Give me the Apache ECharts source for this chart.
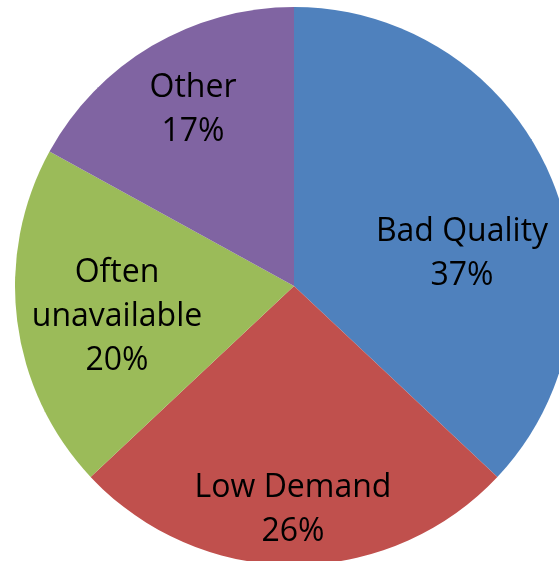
<!DOCTYPE html>
<html>
<head>
<meta charset="utf-8">
<style>
  html, body { margin: 0; padding: 0; background: #fff; }
  #chart { width: 559px; height: 561px; }
</style>
<script src="https://cdn.jsdelivr.net/npm/echarts@6/dist/echarts.min.js"></script>
</head>
<body>
<div id="chart"></div>
<script>
  // slices, clockwise from 12 o'clock
  const names = ['Bad Quality', 'Low Demand', 'Often\nunavailable', 'Other']
  const values = [37, 26, 20, 17]
  const colors = ['#4F81BD', '#C0504D', '#9BBB59', '#8064A2']
  // where the labels sit (centre of the text block, px)
  const labelPos = [[462, 254], [293, 510], [117, 317], [193, 110]]

  let chart = echarts.init(document.getElementById('chart'))
  chart.setOption({
    animation: false,
    series: [{
      type: 'pie',
      center: [294, 286],
      radius: 279,
      startAngle: 90,
      clockwise: true,
      data: names.map((n, i) => ({ name: n, value: values[i], itemStyle: { color: colors[i] } })),
      itemStyle: { borderWidth: 0 },
      label: {
        show: true,
        position: 'inside',
        formatter: '{b}\n{d}%',
        color: '#000',
        fontFamily: 'Open Sans',
        fontSize: 32,
        lineHeight: 44,
        align: 'center'
      },
      labelLayout: function (p) {
        return { x: labelPos[p.dataIndex][0], y: labelPos[p.dataIndex][1], align: 'center', verticalAlign: 'middle' }
      },
      emphasis: { disabled: true }
    }]
  })
</script>
</body>
</html>
